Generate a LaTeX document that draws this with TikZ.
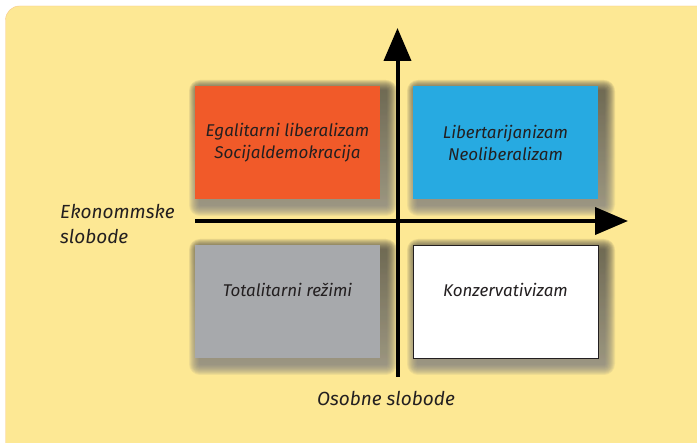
\documentclass[tikz,border=0pt]{standalone}
\usepackage{fontspec}
\setmainfont{Fira Sans}
\usetikzlibrary{arrows.meta}
\definecolor{bgyellow}{RGB}{253,232,148}
\definecolor{bgline}{RGB}{248,200,140}
\definecolor{qorange}{RGB}{241,90,41}
\definecolor{qblue}{RGB}{39,170,225}
\definecolor{qgray}{RGB}{167,169,172}
\definecolor{ink}{RGB}{35,31,32}
\definecolor{shade}{RGB}{90,75,20}

\begin{document}
\begin{tikzpicture}[x=1pt, y=-1pt, every node/.style={font=\itshape\fontsize{17}{22}\selectfont, text=ink}, quad/.style={rectangle, minimum width=185pt, minimum height=113pt, align=center, inner sep=0pt}, label/.style={font=\itshape\fontsize{19}{25}\selectfont, inner sep=0pt}, axis/.style={draw=black, line width=4pt, -{Triangle[length=33pt, width=27pt]}}]
			\useasboundingbox (0,0) rectangle (697,443);
			\draw[draw=bgline, fill=bgyellow, rounded corners=14pt] (5.5,6) rectangle (712,460);
			
			% soft shadows under the four boxes
			\foreach \cx/\cy in {287.5/142.5, 505.5/142.5, 287.5/301.5, 505.5/301.5}
				\foreach \s in {1,...,11}
					\fill[shade, opacity=0.06, rounded corners=\s pt] (\cx-92.5+5-\s, \cy-56.5+5-\s) rectangle (\cx+92.5+6+\s, \cy+56.5+6+\s);
			
			\node[quad, fill=qorange] (lib) at (287.5,142.5){Egalitarni liberalizam\\Socijaldemokracija};
			\node[quad, fill=qblue] (neo) at (505.5,142.5){Libertarijanizam\\Neoliberalizam};
			\node[quad, fill=qgray] (tot) at (287.5,301.5){Totalitarni režimi\\[2pt]\phantom{X}};
			\node[quad, fill=white, draw=ink, thin] (kon) at (505.5,301.5){Konzervativizam\\[2pt]\phantom{X}};
			
			\coordinate (xl) at (195,221);
			\coordinate (xr) at (628,221);
			\coordinate (yb) at (397.5,377);
			\coordinate (yt) at (397.5,28);
			
			\node[label, anchor=west, align=left] (eko) at (60,224){Ekonommske\\slobode};
			\node[label] (oso) at (386,398){Osobne slobode};
			
			\draw[axis] (xl) -- (xr);
			\draw[axis] (yb) -- (yt);
			\end{tikzpicture}
\end{document}
